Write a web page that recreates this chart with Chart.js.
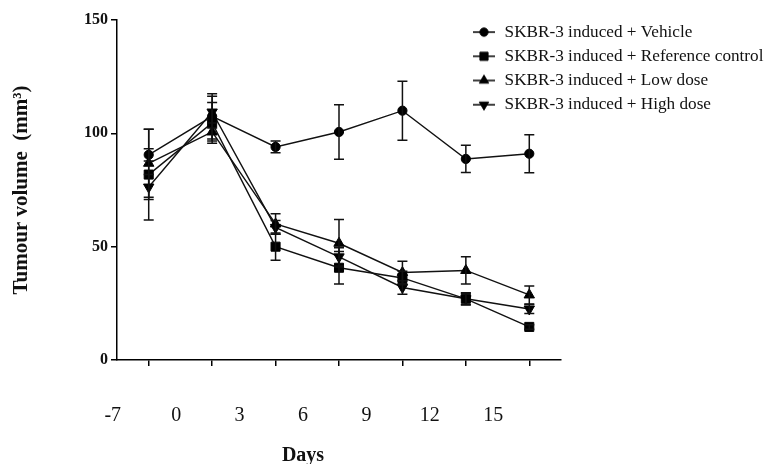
<!DOCTYPE html>
<html>
<head>
<meta charset="utf-8">
<script src="https://cdn.jsdelivr.net/npm/chart.js@4/dist/chart.umd.min.js"></script>
<style>
html,body{margin:0;padding:0;background:#fff;}
#wrap{width:769px;height:464px;position:relative;}
</style>
</head>
<body>
<div id="wrap"><canvas id="c"></canvas></div>
<script>
// ---- data ----
const dayLabels = ['-7', '0', '3', '6', '9', '12', '15'];
const seriesNames = [
  'SKBR-3 induced + Vehicle',
  'SKBR-3 induced + Reference control',
  'SKBR-3 induced + Low dose',
  'SKBR-3 induced + High dose'
];
const vehicle      = [90.5, 107.5, 94.0, 100.6, 110.0, 88.7, 91.0];
const vehicleErr   = [2.7, 10.0, 2.6, 12.0, 13.0, 6.0, 8.4];
const reference    = [81.8, 104.6, 50.0, 40.7, 36.2, 27.0, 14.6];
const referenceErr = [20.0, 9.0, 6.0, 7.2, 3.0, 2.7, 1.0];
const lowDose      = [86.8, 100.6, 60.0, 51.5, 38.6, 39.5, 28.7];
const lowDoseErr   = [15.0, 4.0, 4.5, 10.5, 5.0, 6.0, 4.0];
const highDose     = [76.3, 109.4, 58.5, 45.5, 32.0, 27.0, 22.5];
const highDoseErr  = [5.5, 7.0, 3.0, 4.0, 3.0, 2.5, 2.0];
const yTicks = [0, 50, 100, 150];
const yTitle = 'Tumour volume  (mm\u00B3)';
const xTitle = 'Days';

const seriesValues = [vehicle, reference, lowDose, highDose];
const seriesErrors = [vehicleErr, referenceErr, lowDoseErr, highDoseErr];

// ---- styles ----
const INK = '#111';
const markerStyles = ['circle', 'rect', 'triangle', 'triangle'];
const markerRot = [0, 0, 0, 180];
const markerRadius = [4.6, 6.4, 6, 6];
const LABEL_SHIFT = -36;
const serif = '"Liberation Serif", "Times New Roman", serif';

function drawMarker(g, style, rot, r, x, y) {
  g.beginPath();
  if (style === 'circle') {
    g.arc(x, y, r, 0, Math.PI * 2);
  } else if (style === 'rect') {
    const s = Math.SQRT1_2 * r;
    g.rect(x - s, y - s, 2 * s, 2 * s);
  } else {
    const dir = rot === 180 ? -1 : 1;
    const a = Math.PI / 6;
    g.moveTo(x, y - dir * r);
    g.lineTo(x + r * Math.cos(a), y + dir * r * Math.sin(a));
    g.lineTo(x - r * Math.cos(a), y + dir * r * Math.sin(a));
    g.closePath();
  }
  g.fill();
  g.stroke();
}

function legendIcon(i) {
  const c = document.createElement('canvas');
  c.width = 24; c.height = 14;
  const g = c.getContext('2d');
  g.strokeStyle = INK; g.lineWidth = 1.6;
  g.beginPath(); g.moveTo(1, 7); g.lineTo(23, 7); g.stroke();
  g.fillStyle = '#000'; g.strokeStyle = '#000'; g.lineWidth = 1;
  drawMarker(g, markerStyles[i], markerRot[i], markerRadius[i] * 0.9, 12, 7);
  return c;
}
const icons = seriesNames.map((_, i) => legendIcon(i));

const errorBars = {
  id: 'errorBars',
  afterDatasetsDraw(chart) {
    const c = chart.ctx, xs = chart.scales.x, ys = chart.scales.y;
    c.save();
    c.strokeStyle = INK; c.lineWidth = 1.5;
    chart.data.datasets.forEach((ds) => {
      ds.data.forEach((v, j) => {
        const e = ds.errors[j];
        const x = xs.getPixelForValue(j);
        const t = ys.getPixelForValue(v + e), b = ys.getPixelForValue(v - e);
        c.beginPath();
        c.moveTo(x, t); c.lineTo(x, b);
        c.moveTo(x - 5, t); c.lineTo(x + 5, t);
        c.moveTo(x - 5, b); c.lineTo(x + 5, b);
        c.stroke();
      });
    });
    c.restore();
  }
};

const legendPlacement = {
  id: 'legendPlacement',
  afterLayout(chart) {
    const lg = chart.legend;
    const h = lg.height;
    lg.left = chart.chartArea.right - 96;
    lg.top = 16.5;
    lg.right = chart.width;
    lg.width = lg.right - lg.left;
    lg.bottom = lg.top + h;
  }
};

const xAxisTitle = {
  id: 'xAxisTitle',
  afterDraw(chart) {
    const s = chart.scales.x, c = chart.ctx;
    c.save();
    c.font = 'bold 20px ' + serif;
    c.fillStyle = INK;
    c.textAlign = 'center';
    c.textBaseline = 'middle';
    c.fillText(xTitle, (s.left + s.right) / 2 + LABEL_SHIFT, s.bottom - 8);
    c.restore();
  }
};

new Chart(document.getElementById('c'), {
  type: 'line',
  data: {
    labels: dayLabels,
    datasets: seriesNames.map((name, i) => ({
      label: name,
      data: seriesValues[i],
      errors: seriesErrors[i],
      borderColor: INK,
      borderWidth: 1.4,
      backgroundColor: '#000',
      pointBackgroundColor: '#000',
      pointBorderColor: '#000',
      pointBorderWidth: 1,
      pointStyle: markerStyles[i],
      rotation: markerRot[i],
      pointRadius: markerRadius[i],
      tension: 0,
      fill: false
    }))
  },
  options: {
    responsive: true,
    maintainAspectRatio: false,
    animation: false,
    layout: { padding: { top: 20, right: 0, bottom: 0, left: 0 } },
    plugins: {
      tooltip: { enabled: false },
      legend: {
        position: 'right',
        align: 'start',
        maxWidth: 208,
        labels: {
          usePointStyle: true,
          pointStyleWidth: 24,
          padding: 7,
          color: INK,
          font: { family: serif, size: 17.2 },
          generateLabels(chart) {
            return chart.data.datasets.map((ds, i) => ({
              text: ds.label,
              pointStyle: icons[i],
              datasetIndex: i,
              hidden: false,
              lineWidth: 0,
              fillStyle: 'transparent',
              strokeStyle: 'transparent',
              fontColor: INK
            }));
          }
        }
      }
    },
    scales: {
      x: {
        type: 'category',
        offset: true,
        afterFit(scale) { scale.height = 104; },
        border: { display: true, color: '#000', width: 1.5 },
        grid: { offset: false, drawOnChartArea: false, drawTicks: true, tickLength: 6, color: '#000', lineWidth: 1.5 },
        ticks: {
          autoSkip: false, maxRotation: 0, padding: 38,
          labelOffset: LABEL_SHIFT,
          color: INK,
          font: { family: serif, size: 20 }
        }
      },
      y: {
        type: 'linear',
        min: 0, max: 150,
        afterFit(scale) { scale.width = 117; },
        afterBuildTicks(scale) { scale.ticks = yTicks.map(v => ({ value: v })); },
        border: { display: true, color: '#000', width: 1.5 },
        grid: { drawOnChartArea: false, drawTicks: true, tickLength: 6, color: '#000', lineWidth: 1.5 },
        ticks: {
          padding: 3,
          color: INK,
          font: { family: serif, size: 16, weight: 'bold' }
        },
        title: {
          display: true,
          text: yTitle,
          color: INK,
          padding: { top: 9, bottom: 0 },
          font: { family: serif, size: 21, weight: 'bold' }
        }
      }
    }
  },
  plugins: [errorBars, legendPlacement, xAxisTitle]
});
</script>
</body>
</html>
